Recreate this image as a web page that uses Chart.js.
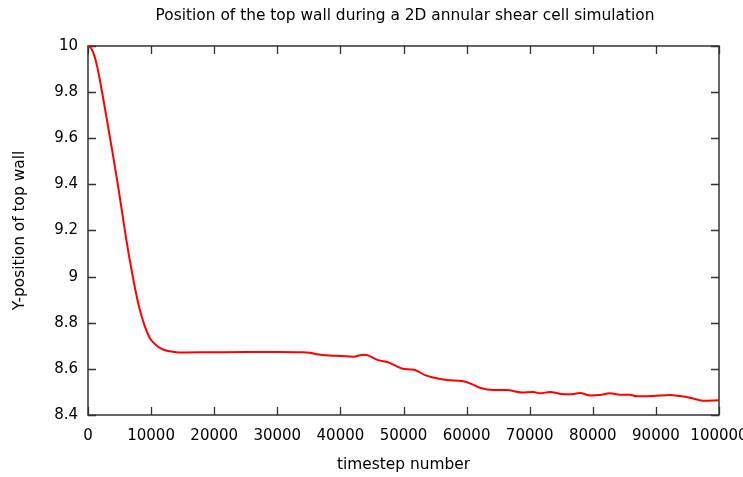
<!DOCTYPE html>
<html>
<head>
<meta charset="utf-8">
<script src="https://cdn.jsdelivr.net/npm/chart.js@4.4.1/dist/chart.umd.min.js"></script>
<style>
  html, body { margin: 0; padding: 0; background: #fff; overflow: hidden; }
  #wrap { position: absolute; left: 0; top: 0; width: 810px; height: 477px; }
</style>
</head>
<body>
<div id="wrap"><canvas id="c" width="810" height="477"></canvas></div>
<script>
// ---- data ----
const timesteps = [0, 500, 1000, 1500, 2000, 2500, 3000, 3500, 4000, 4500, 5000, 5500, 6000, 6500, 7000, 7500, 8000, 8500, 9000, 9500, 10000, 11000, 12000, 13000, 14000, 15000, 20000, 25000, 30000, 33600, 35200, 36240, 38880, 42050, 43630, 44160, 46000, 47590, 49710, 51820, 53410, 54720, 56840, 59480, 60540, 62120, 64230, 66350, 68730, 70570, 71630, 73220, 75070, 76390, 77970, 79560, 81140, 82730, 84310, 85900, 86950, 89590, 92230, 93820, 95400, 97510, 100000];
const wallY = [10, 9.99, 9.958, 9.905, 9.835, 9.758, 9.68, 9.60, 9.52, 9.437, 9.352, 9.262, 9.172, 9.09, 9.015, 8.943, 8.88, 8.828, 8.785, 8.75, 8.725, 8.698, 8.683, 8.676, 8.672, 8.671, 8.672, 8.673, 8.673, 8.672, 8.670, 8.663, 8.657, 8.653, 8.661, 8.660, 8.638, 8.628, 8.602, 8.595, 8.573, 8.563, 8.552, 8.546, 8.537, 8.518, 8.508, 8.508, 8.498, 8.500, 8.494, 8.500, 8.491, 8.490, 8.495, 8.485, 8.487, 8.494, 8.488, 8.488, 8.481, 8.482, 8.487, 8.482, 8.475, 8.462, 8.464];
const xTickValues = [0, 10000, 20000, 30000, 40000, 50000, 60000, 70000, 80000, 90000, 100000];
const xTickLabels = ['0', '10000', '20000', '30000', '40000', '50000', '60000', '70000', '80000', '90000', '100000'];
const yTickValues = [8.4, 8.6, 8.8, 9, 9.2, 9.4, 9.6, 9.8, 10];
const yTickLabels = ['8.4', '8.6', '8.8', '9', '9.2', '9.4', '9.6', '9.8', '10'];
const chartTitle = 'Position of the top wall during a 2D annular shear cell simulation';
const xTitle = 'timestep number';
const yTitle = 'Y-position of top wall';

const points = timesteps.map((t, i) => ({ x: t, y: wallY[i] }));

function labelFor(values, labels, v) {
  for (let i = 0; i < values.length; i++) {
    if (Math.abs(values[i] - v) < 1e-6 * Math.max(1, Math.abs(v))) return labels[i];
  }
  return '';
}

// gnuplot-style frame with inward ticks on all four sides
const framePlugin = {
  id: 'frame',
  beforeDatasetsDraw(chart) {
    const { ctx, chartArea: a, scales } = chart;
    const L = 8;
    ctx.save();
    ctx.strokeStyle = '#333';
    ctx.lineWidth = 1.3;
    ctx.beginPath();
    xTickValues.forEach(v => {
      const px = Math.round(scales.x.getPixelForValue(v)) + 0.5;
      ctx.moveTo(px, a.bottom); ctx.lineTo(px, a.bottom - L);
      ctx.moveTo(px, a.top); ctx.lineTo(px, a.top + L);
    });
    yTickValues.forEach(v => {
      const py = Math.round(scales.y.getPixelForValue(v)) + 0.5;
      ctx.moveTo(a.left, py); ctx.lineTo(a.left + L, py);
      ctx.moveTo(a.right, py); ctx.lineTo(a.right - L, py);
    });
    ctx.stroke();
    ctx.lineWidth = 1.5;
    ctx.strokeRect(a.left, a.top, a.right - a.left, a.bottom - a.top);
    ctx.restore();
  }
};

const tickFont = { family: 'DejaVu Sans', size: 15 };
const titleFont = { family: 'DejaVu Sans', size: 15.4 };

new Chart(document.getElementById('c'), {
  type: 'line',
  data: {
    datasets: [{
      data: points,
      borderColor: '#ff0000',
      borderWidth: 2,
      pointRadius: 0,
      fill: false,
      cubicInterpolationMode: 'monotone'
    }]
  },
  options: {
    responsive: false,
    animation: false,
    devicePixelRatio: 1,
    layout: { padding: 0 },
    plugins: {
      legend: { display: false },
      tooltip: { enabled: false },
      title: {
        display: true,
        text: chartTitle,
        color: '#000',
        font: { family: 'DejaVu Sans', size: 15.4, weight: 'normal' },
        padding: { top: 6.8, bottom: 20.7 }
      }
    },
    scales: {
      x: {
        type: 'linear',
        min: 0, max: 100000,
        grid: { display: false, drawTicks: false },
        border: { display: false },
        afterBuildTicks(scale) { scale.ticks = xTickValues.map(v => ({ value: v })); },
        afterFit(scale) { scale.height = 62; },
        ticks: {
          color: '#000', font: tickFont, padding: 12, maxRotation: 0, autoSkip: false,
          callback: v => labelFor(xTickValues, xTickLabels, v)
        },
        title: { display: true, text: xTitle, color: '#000', font: titleFont, padding: { top: 0, bottom: 2.8 } }
      },
      y: {
        type: 'linear',
        min: 8.4, max: 10,
        grid: { display: false, drawTicks: false },
        border: { display: false },
        afterBuildTicks(scale) { scale.ticks = yTickValues.map(v => ({ value: v })); },
        afterFit(scale) { scale.width = 88; },
        ticks: {
          color: '#000', font: tickFont, padding: 10, autoSkip: false,
          callback: v => labelFor(yTickValues, yTickLabels, v)
        },
        title: { display: true, text: yTitle, color: '#000', font: titleFont, padding: { top: 10.8, bottom: 0 } }
      },
      rightSpace: {
        type: 'linear',
        position: 'right',
        display: true,
        grid: { display: false, drawTicks: false },
        border: { display: false },
        ticks: { display: false },
        afterFit(scale) { scale.width = 91; }
      }
    }
  },
  plugins: [framePlugin]
});
</script>
</body>
</html>
